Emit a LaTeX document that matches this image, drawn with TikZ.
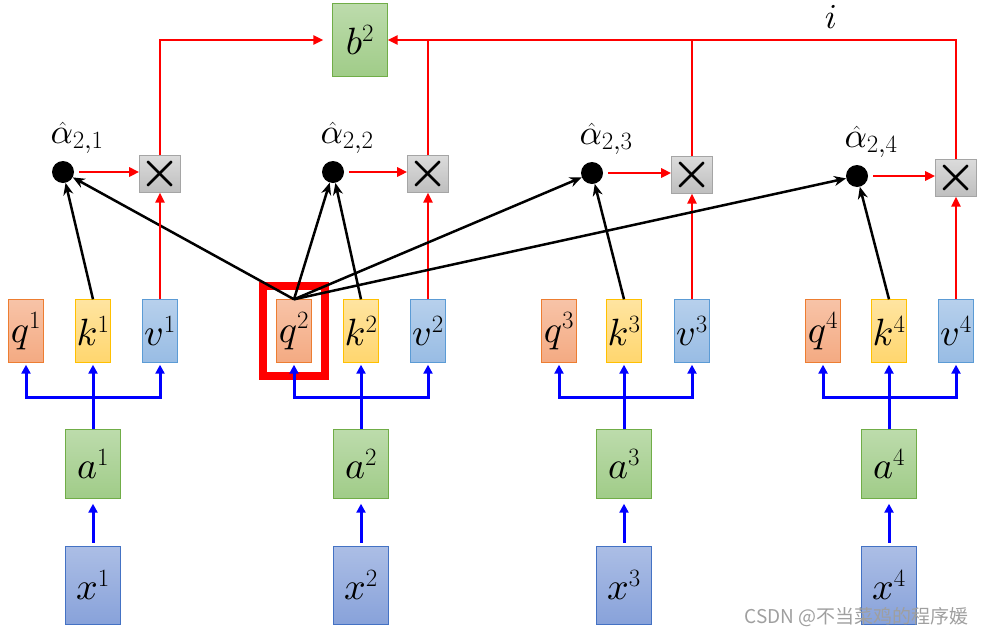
\documentclass[tikz,border=0pt]{standalone}
\usepackage{fontspec}
\newfontfamily\cjkfont{Noto Sans CJK SC}
\DeclareFontShape{OML}{cmm}{m}{it}{<->cmmi10}{}
\DeclareFontShape{OML}{cmm}{b}{it}{<->cmmib10}{}
\DeclareFontShape{OMS}{cmsy}{m}{n}{<->cmsy10}{}
\DeclareFontShape{OMS}{cmsy}{b}{n}{<->cmbsy10}{}
\DeclareMathSizes{38}{38}{29}{22}
\DeclareMathSizes{35}{35}{26}{20}
\usetikzlibrary{arrows.meta, positioning, fit}
\definecolor{qfill}{RGB}{244,170,130}
\definecolor{qline}{RGB}{237,125,49}
\definecolor{kfill}{RGB}{255,214,110}
\definecolor{kline}{RGB}{255,192,0}
\definecolor{vfill}{RGB}{152,188,228}
\definecolor{vline}{RGB}{91,155,213}
\definecolor{afill}{RGB}{160,204,136}
\definecolor{aline}{RGB}{112,173,71}
\definecolor{xfill}{RGB}{136,162,218}
\definecolor{xline}{RGB}{68,114,196}
\definecolor{mfill}{RGB}{190,190,190}
\definecolor{mline}{RGB}{165,165,165}
\newcommand\diagfont{\fontsize{38}{42}\selectfont}
\newcommand\lblfont{\fontsize{35}{40}\selectfont}

\begin{document}
\begin{tikzpicture}[x=1pt, y=-1pt,
        cell/.style={draw, inner sep=0pt, font=\diagfont},
        qkv/.style={cell, minimum width=35pt, minimum height=63pt},
        qcell/.style={qkv, draw=qline, top color=qfill!70, bottom color=qfill},
        kcell/.style={qkv, draw=kline, top color=kfill!65, bottom color=kfill},
        vcell/.style={qkv, draw=vline, top color=vfill!70, bottom color=vfill},
        acell/.style={cell, draw=aline, top color=afill!70, bottom color=afill, minimum width=55pt, minimum height=69pt},
        xcell/.style={cell, draw=xline, top color=xfill!70, bottom color=xfill, minimum width=55pt, minimum height=78pt},
        mcell/.style={cell, draw=mline, top color=mfill!55, bottom color=mfill, minimum width=36pt, minimum height=37pt, font=\fontsize{46}{46}\selectfont\boldmath},
        wdot/.style={circle, fill=black, minimum size=22pt, inner sep=0pt},
        blu/.style={blue, line width=3pt},
        bluarr/.style={blu, -{Triangle[length=9pt, width=9pt]}},
        blk/.style={black, line width=2.5pt, -{Stealth[length=12pt, width=10pt]}},
        redl/.style={red, line width=2.5pt},
        redarr/.style={redl, -{Triangle[length=10pt, width=9pt]}},
        lbl/.style={font=\lblfont}
      ]
        \useasboundingbox (0,0) rectangle (982,635);
        \foreach \j/\xq/\xk/\xv in {1/26/93/160, 2/294/361/428, 3/559/624/692, 4/823/889/956} {
          \node[qcell] (q\j) at (\xq,331) {$q^\j$};
          \node[kcell] (k\j) at (\xk,331) {$k^\j$};
          \node[vcell] (v\j) at (\xv,331) {$v^\j$};
          \node[acell] (a\j) at (\xk,464) {$a^\j$};
          \node[xcell] (x\j) at (\xk,585) {$x^\j$};
          \coordinate (br\j) at (a\j.north |- 0,397);
        }
        \foreach \j/\xd/\yd/\xm in {1/63/172/160, 2/333/172/428, 3/592/173/692, 4/857/176/956} {
          \node[wdot] (d\j) at (\xd,\yd) {};
          \node[mcell] (m\j) at (\xm,\yd+2) {$\times$};
          \node[lbl] (al\j) at (\xd+14,\yd-34) {$\hat{\alpha}_{2,\j}$};
        }
        \node[acell, minimum height=73pt] (b2) at (360,40) {$b^2$};
        \node[lbl] (idx) at (831,17) {$i$};
        \node[draw=red, line width=8pt, fit=(q2), inner sep=13.5pt] (hl) {};
        \foreach \j in {1,...,4} {
          \draw[bluarr, shorten <=3pt, shorten >=5pt] (x\j.north) -- (a\j.south);
          \draw[blu] (a\j.north) -- (br\j);
          \draw[bluarr, shorten >=2pt] (br\j) -| (q\j.south);
          \draw[bluarr, shorten >=2pt] (br\j) -| (v\j.south);
          \draw[bluarr, shorten >=2pt] (br\j) -- (br\j |- k\j.south);
          \draw[blk] (k\j.north) -- (d\j);
          \draw[blk] (q2.north) -- (d\j);
          \draw[redarr, shorten <=5pt] (d\j.east) -- (d\j.east -| m\j.west);
          \draw[redarr] (v\j.north) -- (m\j.south);
        }
        \draw[redarr, shorten >=9pt] (m1.north) |- (b2.west);
        \draw[redarr] (m4.north) |- (b2.east);
        \draw[redl] (m2.north) -- (m2.north |- b2.east);
        \draw[redl] (m3.north) -- (m3.north |- b2.east);
        \node[font=\cjkfont\fontsize{19}{19}\selectfont, text=gray!75, anchor=east] (wm) at (972,617) {CSDN @不当菜鸡的程序媛};
      \end{tikzpicture}
\end{document}
